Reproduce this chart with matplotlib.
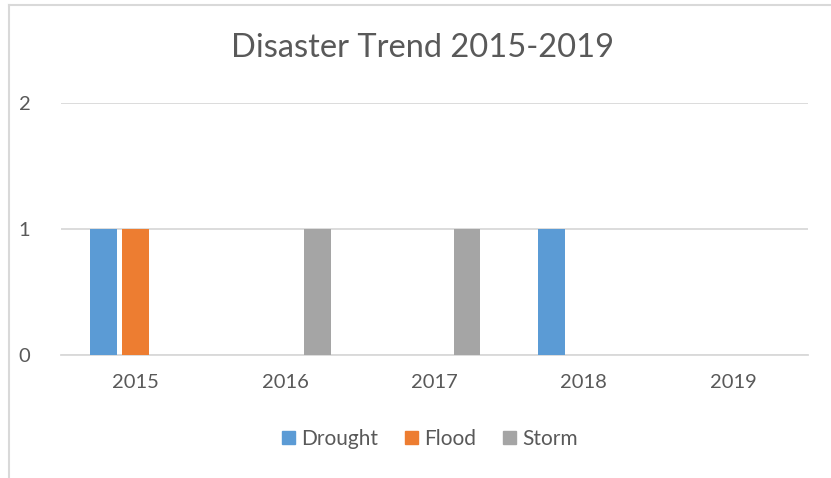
import matplotlib.pyplot as plt
import numpy as np
from matplotlib.lines import Line2D

plt.rcParams['font.family'] = ['Lato', 'DejaVu Sans']

years = ['2015', '2016', '2017', '2018', '2019']
drought = [1, 0, 0, 1, 0]
flood = [1, 0, 0, 0, 0]
storm = [0, 1, 1, 0, 0]

series = [('Drought', drought, '#5B9BD5'),
          ('Flood', flood, '#ED7D31'),
          ('Storm', storm, '#A5A5A5')]

text_col = '#595959'
grid_col = '#D9D9D9'

fig = plt.figure(figsize=(8.31, 4.78), dpi=100)
ax = fig.add_axes([61 / 831, 1 - 355 / 478, (808 - 61) / 831, (355 - 103) / 478])

x = np.arange(len(years))
width = 0.18
step = 0.2175
for i, (name, vals, col) in enumerate(series):
    ax.bar(x + (i - 1) * step, vals, width, color=col, label=name,
           linewidth=0, zorder=3)

ax.set_xlim(-0.5, len(years) - 0.5)
ax.set_ylim(0, 2)
ax.set_yticks([0, 1, 2])
ax.set_xticks(x)
ax.set_xticklabels(years)
ax.yaxis.grid(True, color=grid_col, linewidth=1.3, zorder=0)
ax.set_axisbelow(True)
for s in ['top', 'right', 'left']:
    ax.spines[s].set_visible(False)
ax.spines['bottom'].set_color(grid_col)
ax.spines['bottom'].set_linewidth(1.3)
ax.tick_params(length=0, labelsize=14.5, colors=text_col)
ax.tick_params(axis='x', pad=14)
ax.tick_params(axis='y', pad=22)

fig.text(422 / 831, 1 - 48 / 478, 'Disaster Trend 2015-2019', ha='center', va='center',
         fontsize=23.5, color=text_col)

handles = [plt.Rectangle((0, 0), 1, 1, color=c) for _, _, c in series]
fig.legend(handles, [s[0] for s in series], loc='center', bbox_to_anchor=(430 / 831, 1 - 439 / 478),
           ncol=3, frameon=False, fontsize=15, labelcolor=text_col,
           handlelength=0.6, handleheight=0.6, handletextpad=0.3, columnspacing=1.3)

# chart border (top and left edges visible)
fig.add_artist(Line2D([9 / 831, 1], [1 - 5 / 478, 1 - 5 / 478], color=grid_col, linewidth=1.5))
fig.add_artist(Line2D([9 / 831, 9 / 831], [0, 1 - 5 / 478], color=grid_col, linewidth=1.5))

fig.savefig('out.png', dpi=100)
